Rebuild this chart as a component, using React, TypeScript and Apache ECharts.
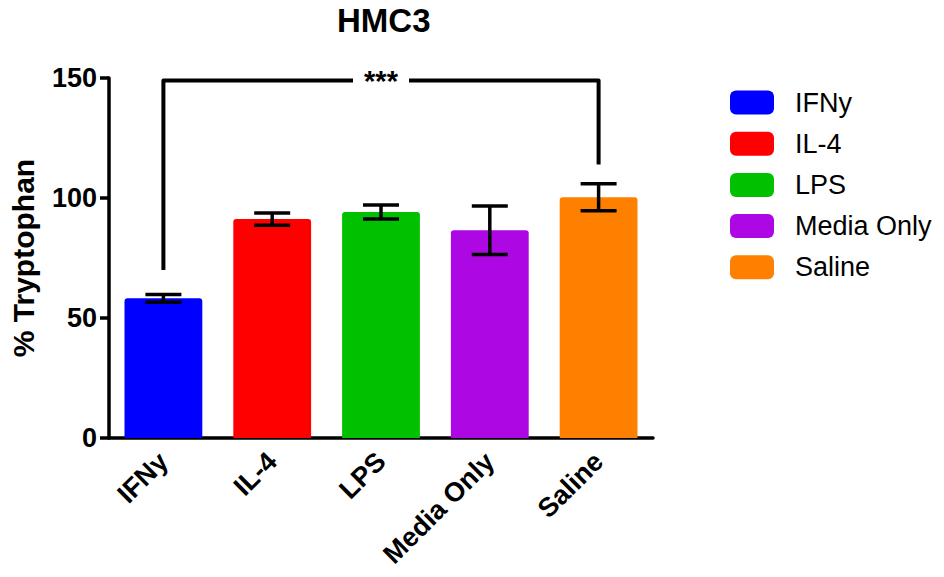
import React, { useEffect, useRef } from "react";
import * as echarts from "echarts";

const categories = ["IFNy", "IL-4", "LPS", "Media Only", "Saline"];
const means = [58.2, 91.2, 94.2, 86.6, 100.3];
const errors = [1.6, 2.6, 2.9, 10.1, 5.6];
const colors = ["#0000FF", "#FF0000", "#00C000", "#AD07E3", "#FF8000"];
const yTicks = { min: 0, max: 150, interval: 50 };
// significance bracket: [fromIndex, toIndex, topValue, leftEndValue, rightEndValue]
const bracket = [0, 4, 149, 70, 114];
const bracketLabel = "***";

const FONT = "'Liberation Sans', Arial, Helvetica, sans-serif";

export default function App() {
  const ref = useRef<HTMLDivElement>(null);
  useEffect(() => {
    if (!ref.current) return;
    const chart = echarts.init(ref.current, undefined, { renderer: "svg" });
    const barSeries = categories.map((name, i) => ({
      name,
      type: "bar",
      stack: "all",
      barWidth: "71.5%",
      itemStyle: { color: colors[i], borderRadius: [3, 3, 0, 0] },
      data: categories.map((_, j) => (j === i ? means[i] : "-")),
      z: 2,
    }));
    const option: any = {
      animation: false,
      backgroundColor: "#fff",
      title: {
        text: "HMC3",
        left: 337,
        top: 4,
        padding: 0,
        textStyle: { fontFamily: FONT, fontWeight: "bold", fontSize: 33, color: "#000" },
      },
      legend: {
        orient: "vertical",
        left: 730,
        top: 89,
        padding: 0,
        itemWidth: 44,
        itemHeight: 24,
        itemGap: 14.2,
        icon: "roundRect",
        data: categories,
        textStyle: {
          fontFamily: FONT,
          fontSize: 27,
          color: "#000",
          lineHeight: 24,
          padding: [0, 0, 0, 16],
        },
      },
      grid: { left: 109, right: 291, top: 78, bottom: 139, containLabel: false },
      xAxis: {
        type: "category",
        data: categories,
        axisLine: { lineStyle: { color: "#000", width: 3.5 } },
        axisTick: { alignWithLabel: true, length: 9, lineStyle: { color: "#000", width: 3.5 } },
        axisLabel: {
          rotate: 45,
          interval: 0,
          margin: 19,
          fontFamily: FONT,
          fontWeight: "bold",
          fontSize: 27,
          color: "#000",
        },
      },
      yAxis: {
        type: "value",
        min: yTicks.min,
        max: yTicks.max,
        interval: yTicks.interval,
        name: "% Tryptophan",
        nameLocation: "middle",
        nameGap: 71,
        nameTextStyle: { fontFamily: FONT, fontWeight: "bold", fontSize: 30, color: "#000" },
        axisLine: { show: true, lineStyle: { color: "#000", width: 3.5 } },
        axisTick: { show: true, length: 9, lineStyle: { color: "#000", width: 3.5 } },
        splitLine: { show: false },
        axisLabel: {
          margin: 12,
          fontFamily: FONT,
          fontWeight: "bold",
          fontSize: 27,
          color: "#000",
        },
      },
      series: [
        ...barSeries,
        {
          type: "custom",
          name: "err",
          z: 5,
          silent: true,
          encode: { x: 0, y: [1, 2] },
          data: categories.map((_, i) => [i, means[i] - errors[i], means[i] + errors[i]]),
          renderItem: (params: any, api: any) => {
            const lo = api.coord([api.value(0), api.value(1)]);
            const hi = api.coord([api.value(0), api.value(2)]);
            const hw = 18;
            const st = { stroke: "#000", lineWidth: 3.5 };
            return {
              type: "group",
              children: [
                { type: "line", shape: { x1: lo[0], y1: lo[1], x2: hi[0], y2: hi[1] }, style: st },
                { type: "line", shape: { x1: hi[0] - hw, y1: hi[1], x2: hi[0] + hw, y2: hi[1] }, style: st },
                { type: "line", shape: { x1: lo[0] - hw, y1: lo[1], x2: lo[0] + hw, y2: lo[1] }, style: st },
              ],
            };
          },
        },
        {
          type: "custom",
          name: "sig",
          z: 5,
          silent: true,
          clip: false,
          encode: { x: 0, y: 2 },
          data: [bracket],
          renderItem: (params: any, api: any) => {
            const i0 = api.value(0);
            const i1 = api.value(1);
            const top = api.value(2);
            const lEnd = api.value(3);
            const rEnd = api.value(4);
            const pL = api.coord([i0, top]);
            const pR = api.coord([i1, top]);
            const pLe = api.coord([i0, lEnd]);
            const pRe = api.coord([i1, rEnd]);
            const mid = api.coord([(i0 + i1) / 2, top]);
            const gap = 28;
            const st = { stroke: "#000", lineWidth: 4, fill: null, lineJoin: "round" };
            return {
              type: "group",
              children: [
                {
                  type: "polyline",
                  shape: { points: [[pLe[0], pLe[1]], [pL[0], pL[1]], [mid[0] - gap, mid[1]]] },
                  style: st,
                },
                {
                  type: "polyline",
                  shape: { points: [[mid[0] + gap, mid[1]], [pR[0], pR[1]], [pRe[0], pRe[1]]] },
                  style: st,
                },
                {
                  type: "text",
                  x: mid[0],
                  y: mid[1] + 1,
                  style: {
                    text: bracketLabel,
                    align: "center",
                    verticalAlign: "middle",
                    fontFamily: FONT,
                    fontWeight: "bold",
                    fontSize: 29,
                    fill: "#000",
                  },
                },
              ],
            };
          },
        },
      ],
    };
    chart.setOption(option);
    return () => chart.dispose();
  }, []);
  return (
    <div
      ref={ref}
      style={{ position: "fixed", left: 0, top: 0, width: 944, height: 577 }}
    />
  );
}
